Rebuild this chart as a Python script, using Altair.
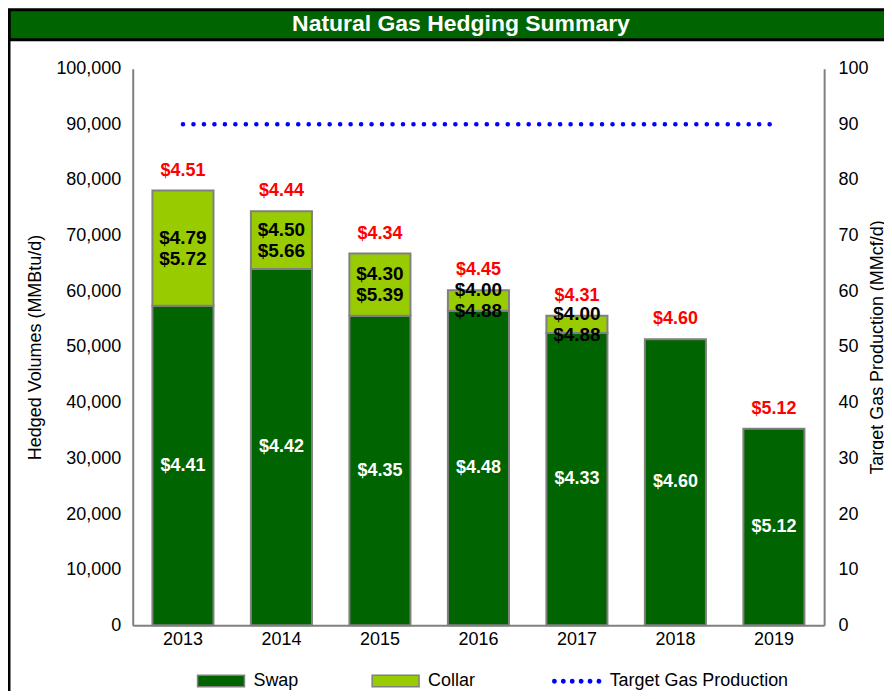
import altair as alt
import pandas as pd

# ---------------- data ----------------
years = ["2013", "2014", "2015", "2016", "2017", "2018", "2019"]
swap_volume = [57400, 64000, 55600, 56500, 52500, 51400, 35300]
collar_volume = [20700, 10400, 11200, 3700, 3100, 0, 0]
swap_price = ["$4.41", "$4.42", "$4.35", "$4.48", "$4.33", "$4.60", "$5.12"]
collar_price = ["$4.79\n$5.72", "$4.50\n$5.66", "$4.30\n$5.39", "$4.00\n$4.88",
                "$4.00\n$4.88", "", ""]
total_price = ["$4.51", "$4.44", "$4.34", "$4.45", "$4.31", "$4.60", "$5.12"]
target_production = [90, 90, 90, 90, 90, 90, 90]
left_ticks = [0, 10000, 20000, 30000, 40000, 50000, 60000, 70000, 80000, 90000, 100000]
right_ticks = [0, 10, 20, 30, 40, 50, 60, 70, 80, 90, 100]
series_names = ["Swap", "Collar"]
series_colors = ["#006400", "#99CC00"]

# ---------------- tables ----------------
rows = []
for i, y in enumerate(years):
    rows.append({"year": y, "type": "Swap", "volume": swap_volume[i], "ord": 0})
    if collar_volume[i] > 0:
        rows.append({"year": y, "type": "Collar", "volume": collar_volume[i], "ord": 1})
bars_df = pd.DataFrame(rows)

labels_df = pd.DataFrame({
    "year": years,
    "swap": swap_volume,
    "collar": collar_volume,
    "swap_price": swap_price,
    "collar_price": collar_price,
    "total_price": total_price,
})
target_df = pd.DataFrame({"year": years, "target": target_production,
                          "series": ["Target Gas Production"] * len(years)})

FONT = "Liberation Sans"

x_enc = alt.X("year:N", sort=years,
              scale=alt.Scale(paddingInner=0.38, paddingOuter=0.2),
              axis=alt.Axis(title=None, labelAngle=0, labelPadding=5))
y_scale = alt.Scale(domain=[0, 100000])
y_axis = alt.Axis(title="Hedged Volumes (MMBtu/d)", values=left_ticks, format=",d",
                  labelPadding=12, titlePadding=11)

rect_path = "M-2,-0.5H2V0.5H-2Z"
dots_path = " ".join(
    f"M{cx - 0.1:.3f},0a0.1,0.1 0 1,0 0.2,0a0.1,0.1 0 1,0 -0.2,0Z"
    for cx in [-1.9, -1.14, -0.38, 0.38, 1.14, 1.9]
)

bars = alt.Chart(bars_df).mark_bar(stroke="#808080", strokeWidth=2).encode(
    x=x_enc,
    y=alt.Y("volume:Q", stack="zero", scale=y_scale, axis=y_axis),
    fill=alt.Fill("type:N",
                  scale=alt.Scale(domain=series_names, range=series_colors),
                  legend=alt.Legend(orient="none", legendX=76, legendY=601,
                                    direction="horizontal", title=None,
                                    symbolType=rect_path, symbolSize=552,
                                    symbolStrokeColor="#808080", symbolStrokeWidth=1.5,
                                    labelFont=FONT, labelFontSize=18, labelColor="black",
                                    labelOffset=20, columnPadding=70, padding=0)),
    order=alt.Order("ord:Q"),
)

swap_text = alt.Chart(labels_df).transform_calculate(
    mid="datum.swap / 2"
).mark_text(color="white", fontWeight="bold", fontSize=18, font=FONT).encode(
    x=x_enc,
    y=alt.Y("mid:Q", scale=y_scale, axis=y_axis),
    text="swap_price:N",
)

collar_text = alt.Chart(labels_df).transform_filter(
    "datum.collar > 0"
).transform_calculate(
    mid="datum.swap + datum.collar / 2"
).mark_text(color="black", fontWeight="bold", fontSize=19, font=FONT,
            lineBreak="\n", lineHeight=21, dy=-10.5).encode(
    x=x_enc,
    y=alt.Y("mid:Q", scale=y_scale, axis=y_axis),
    text="collar_price:N",
)

total_text = alt.Chart(labels_df).transform_calculate(
    top="datum.swap + datum.collar"
).mark_text(color="#FF0000", fontWeight="bold", fontSize=18, font=FONT, dy=-20).encode(
    x=x_enc,
    y=alt.Y("top:Q", scale=y_scale, axis=y_axis),
    text="total_price:N",
)

# decorations: title band and frame
one = alt.Data(values=[{}])
band = alt.Chart(one).mark_rect(fill="#006400", stroke="black", strokeWidth=3).encode(
    x=alt.value(-124), x2=alt.value(800), y=alt.value(-59), y2=alt.value(-29))
frame = alt.Chart(one).mark_rule(color="black", strokeWidth=3).encode(
    x=alt.value(-124), y=alt.value(-59), y2=alt.value(640))
title = alt.Chart(one).mark_text(
    text="Natural Gas Hedging Summary", color="white", fontWeight="bold",
    fontSize=23, font=FONT, align="center", baseline="middle").encode(
    x=alt.value(329), y=alt.value(-45))

left = alt.layer(bars, swap_text, collar_text, total_text, band, frame, title)

line = alt.Chart(target_df).mark_line(
    strokeWidth=4.5, strokeCap="round", strokeDash=[0.1, 10.4]
).encode(
    x=x_enc,
    y=alt.Y("target:Q", scale=alt.Scale(domain=[0, 100]),
            axis=alt.Axis(orient="right", title="Target Gas Production (MMcf/d)",
                          values=right_ticks, labelPadding=14, titlePadding=18,
                          titleAngle=270)),
    stroke=alt.Stroke("series:N",
                      scale=alt.Scale(domain=["Target Gas Production"], range=["#0000FF"]),
                      legend=alt.Legend(orient="none", legendX=432, legendY=601,
                                        title=None, symbolType=dots_path, symbolSize=552,
                                        symbolStrokeWidth=2.5, symbolFillColor="#0000FF",
                                        labelFont=FONT, labelFontSize=18, labelLimit=400,
                                        labelColor="black", labelOffset=20, padding=0)),
)

chart = alt.layer(left, line).resolve_scale(
    y="independent", fill="independent", stroke="independent"
).properties(
    width=693, height=558,
    autosize=alt.AutoSizeParams(type="none"),
    padding={"left": 125, "top": 60, "right": 60, "bottom": 65},
    background="white",
).configure_view(stroke=None).configure_axis(
    grid=False, ticks=False, domainColor="#808080", domainWidth=2,
    labelFont=FONT, labelFontSize=18, labelColor="black",
    titleFont=FONT, titleFontSize=18, titleFontWeight="normal", titleColor="black",
)

chart.save("out.html", embed_options={"renderer": "svg", "actions": False})
